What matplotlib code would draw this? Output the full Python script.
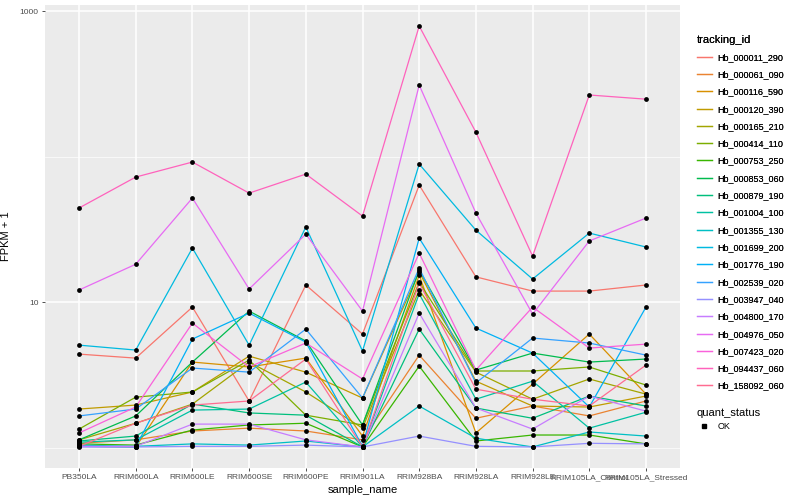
import matplotlib
matplotlib.use('Agg')
import matplotlib.pyplot as plt
from matplotlib.lines import Line2D
import numpy as np

samples = ['PB350LA', 'RRIM600LA', 'RRIM600LE', 'RRIM600SE', 'RRIM600PE', 'RRIM901LA',
	'RRIM928BA', 'RRIM928LA', 'RRIM928LE', 'RRIM105LA_Control', 'RRIM105LA_Stressed']

tracking_ids = ['Hb_000011_290', 'Hb_000061_090', 'Hb_000116_590', 'Hb_000120_390',
	'Hb_000165_210', 'Hb_000414_110', 'Hb_000753_250', 'Hb_000853_060', 'Hb_000879_190',
	'Hb_001004_100', 'Hb_001355_130', 'Hb_001699_200', 'Hb_001776_190', 'Hb_002539_020',
	'Hb_003947_040', 'Hb_004800_170', 'Hb_004976_050', 'Hb_007423_020', 'Hb_094437_060',
	'Hb_158092_060']

# FPKM + 1, one list per gene, in sample order
hb_000011_290 = [4.39, 4.12, 9.24, 2.09, 13.1, 6.03, 63.7, 14.9, 11.9, 11.9, 13.1]
hb_000061_090 = [1.07, 1.13, 1.30, 1.36, 1.30, 1.13, 4.32, 1.59, 1.93, 1.65, 2.09]
hb_000116_590 = [1.02, 1.01, 3.87, 3.58, 4.12, 1.20, 15.3, 1.26, 2.73, 6.03, 2.33]
hb_000120_390 = [1.84, 1.96, 2.41, 4.25, 3.30, 2.19, 16.1, 2.86, 1.93, 1.90, 2.26]
hb_000165_210 = [1.13, 1.47, 1.99, 3.87, 2.41, 1.36, 12.1, 3.30, 2.15, 2.96, 2.33]
hb_000414_110 = [1.34, 2.22, 2.41, 3.99, 1.67, 1.43, 13.7, 3.36, 3.36, 3.58, 2.69]
hb_000753_250 = [1.06, 1.04, 1.32, 1.43, 1.47, 1.01, 3.63, 1.11, 1.22, 1.22, 1.06]
hb_000853_060 = [1.13, 1.65, 3.87, 8.67, 5.40, 1.43, 16.6, 3.41, 4.46, 3.87, 4.06]
hb_000879_190 = [1.11, 1.20, 1.99, 1.73, 1.67, 1.01, 6.52, 1.87, 1.59, 2.26, 1.93]
hb_001004_100 = [1.09, 1.13, 1.81, 1.84, 2.82, 1.01, 11.4, 2.15, 2.86, 1.36, 1.75]
hb_001355_130 = [1.04, 1.02, 1.06, 1.04, 1.11, 1.01, 1.93, 1.16, 1.01, 1.28, 1.20]
hb_001699_200 = [5.06, 4.68, 23.5, 5.06, 32.8, 4.61, 88.8, 31.2, 14.4, 29.8, 23.9]
hb_001776_190 = [1.02, 1.01, 5.57, 8.40, 5.31, 1.02, 27.5, 6.63, 4.46, 1.90, 9.24]
hb_002539_020 = [1.65, 1.84, 3.52, 3.30, 6.52, 2.19, 17.1, 2.78, 5.66, 5.23, 4.32]
hb_003947_040 = [1.01, 1.01, 1.02, 1.02, 1.04, 1.01, 1.20, 1.02, 1.01, 1.07, 1.06]
hb_004800_170 = [1.02, 1.02, 1.45, 1.45, 1.13, 1.01, 8.40, 1.87, 1.34, 2.26, 1.78]
hb_004976_050 = [12.1, 18.2, 51.9, 12.3, 29.3, 8.67, 310, 40.9, 8.27, 26.3, 37.8]
hb_007423_020 = [1.26, 1.90, 7.17, 3.58, 5.23, 2.96, 21.7, 3.41, 9.24, 4.83, 5.14]
hb_094437_060 = [44.3, 72.3, 91.7, 56.1, 75.8, 39.0, 789, 147, 20.7, 265, 248]
hb_158092_060 = [1.02, 1.47, 1.96, 2.09, 4.06, 1.01, 13.5, 2.52, 2.15, 1.93, 3.69]

quant_status = ['OK']

# ggplot2 default hue palette for 20 levels
colors = ['#F8766D', '#EA8331', '#D89000', '#C09B00', '#A3A500', '#7CAE00', '#39B600',
	'#00BB4E', '#00BF7D', '#00C1A3', '#00BFC4', '#00BAE0', '#00B0F6', '#35A2FF',
	'#9590FF', '#C77CFF', '#E76BF3', '#FA62DB', '#FF62BC', '#FF6C91']


def main():
	plt.rcParams['font.family'] = ['Liberation Sans', 'DejaVu Sans']
	series = [hb_000011_290, hb_000061_090, hb_000116_590, hb_000120_390, hb_000165_210,
		hb_000414_110, hb_000753_250, hb_000853_060, hb_000879_190, hb_001004_100,
		hb_001355_130, hb_001699_200, hb_001776_190, hb_002539_020, hb_003947_040,
		hb_004800_170, hb_004976_050, hb_007423_020, hb_094437_060, hb_158092_060]

	fig = plt.figure(figsize=(8, 5), dpi=100)
	ax = fig.add_axes([45 / 800, 32 / 500, 635 / 800, 463 / 500])
	ax.set_facecolor('#EBEBEB')
	x = np.arange(len(samples))

	for vals, col in zip(series, colors):
		ax.plot(x, vals, color=col, lw=0.9, zorder=2)
	for vals in series:
		ax.scatter(x, vals, s=12, color='black', zorder=3, linewidths=0)

	ax.set_yscale('log')
	allv = np.concatenate([np.array(v, dtype=float) for v in series])
	lo, hi = allv.min(), allv.max()
	pad = (hi / lo) ** 0.05
	ax.set_ylim(lo / pad, hi * pad)
	ax.set_xlim(-0.6, len(samples) - 0.4)

	ax.set_yticks([10, 1000])
	ax.set_yticklabels(['10', '1000'])
	ax.set_yticks([1, 100], minor=True)
	ax.yaxis.set_minor_formatter(matplotlib.ticker.NullFormatter())
	ax.set_xticks(x)
	ax.set_xticklabels(samples)

	ax.grid(True, which='major', color='white', lw=1.1)
	ax.grid(True, which='minor', axis='y', color='white', lw=0.5)
	ax.set_axisbelow(True)
	for sp in ax.spines.values():
		sp.set_visible(False)
	ax.tick_params(axis='both', which='major', length=2.5, width=0.6, color='#333333',
		labelcolor='#4D4D4D', labelsize=6, pad=2)
	ax.tick_params(axis='y', which='minor', length=0)

	ax.set_xlabel('sample_name', fontsize=8, labelpad=3)
	ax.set_ylabel('FPKM + 1', fontsize=8, labelpad=6)

	handles = [Line2D([], [], color=c, lw=0.9) for c in colors]
	leg1 = fig.legend(handles, tracking_ids, title='tracking_id', loc='upper left',
		bbox_to_anchor=(692 / 800, 1 - 30 / 500), frameon=False, fontsize=6.5,
		title_fontsize=8, handlelength=1.7, handletextpad=0.6, labelspacing=0.92,
		borderpad=0, alignment='left')
	fig.add_artist(leg1)
	h2 = [Line2D([], [], marker='s', ls='none', color='black', ms=2.5)]
	fig.legend(h2, quant_status, title='quant_status', loc='upper left',
		bbox_to_anchor=(692 / 800, 1 - 403 / 500), frameon=False, fontsize=6.5,
		title_fontsize=8, handlelength=1.7, handletextpad=0.6, borderpad=0,
		alignment='left')

	fig.savefig('out.png', dpi=100)

if __name__ == '__main__':
	main()
